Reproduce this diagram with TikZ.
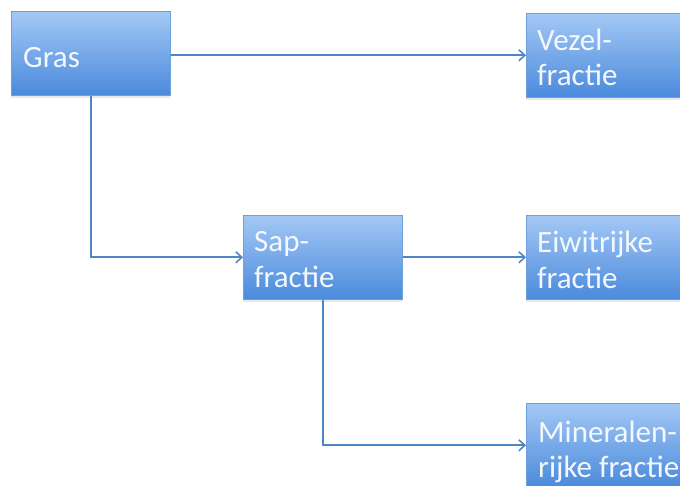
\documentclass[tikz,border=0pt]{standalone}
\usepackage{fontspec}
\setmainfont{Carlito}
\usetikzlibrary{arrows.meta,shadows}
\definecolor{boxtop}{HTML}{A4C8F5}
\definecolor{boxbot}{HTML}{4A8ADC}
\definecolor{boxline}{HTML}{6C9FDB}
\definecolor{conn}{HTML}{5186C4}
\definecolor{txt}{HTML}{F4F8FD}
\tikzset{
  flowbox/.style={draw=boxline, line width=0.6pt, top color=boxtop, bottom color=boxbot,
    minimum width=159pt, minimum height=84pt, anchor=north west, inner sep=0pt,
    drop shadow={opacity=0.18, shadow xshift=0pt, shadow yshift=-2.5pt}},
  flowtext/.style={anchor=base west, inner sep=0pt, text=txt,
    font=\fontsize{31}{35}\selectfont},
  conline/.style={draw=conn, line width=2pt,
    -{Straight Barb[length=6pt,width=11pt,line width=1.6pt]}}
}
\begin{document}
\begin{tikzpicture}[x=1pt,y=-1pt]
\useasboundingbox (0,0) rectangle (680,485);
\fill[white] (0,0) rectangle (680,485);
% boxes
\node[flowbox] (gras) at (11,11) {};
\node[flowbox] (vezel) at (526,13) {};
\node[flowbox] (sap) at (243,215) {};
\node[flowbox] (eiwit) at (526,215) {};
\node[flowbox] (mineral) at (526,403) {};
% texts
\node[flowtext] (tgras) at (23,67) {Gras};
\node[flowtext] (tvez1) at (537,50) {Vezel-};
\node[flowtext] (tvez2) at (537,85) {fractie};
\node[flowtext] (tsap1) at (254,251) {Sap-};
\node[flowtext] (tsap2) at (254,287) {fractie};
\node[flowtext] (tei1) at (537,252) {Eiwitrijke};
\node[flowtext] (tei2) at (537,288) {fractie};
\node[flowtext] (tmin1) at (538,442) {Mineralen-};
\node[flowtext] (tmin2) at (538,477) {rijke fractie};
% connectors
\draw[conline] (gras.east |- vezel.west) -- (vezel.west);
\draw[conline] (gras.south) |- (sap.west);
\draw[conline] (sap.east) -- (eiwit.west);
\draw[conline] (sap.south) |- (mineral.west);
\end{tikzpicture}
\end{document}
